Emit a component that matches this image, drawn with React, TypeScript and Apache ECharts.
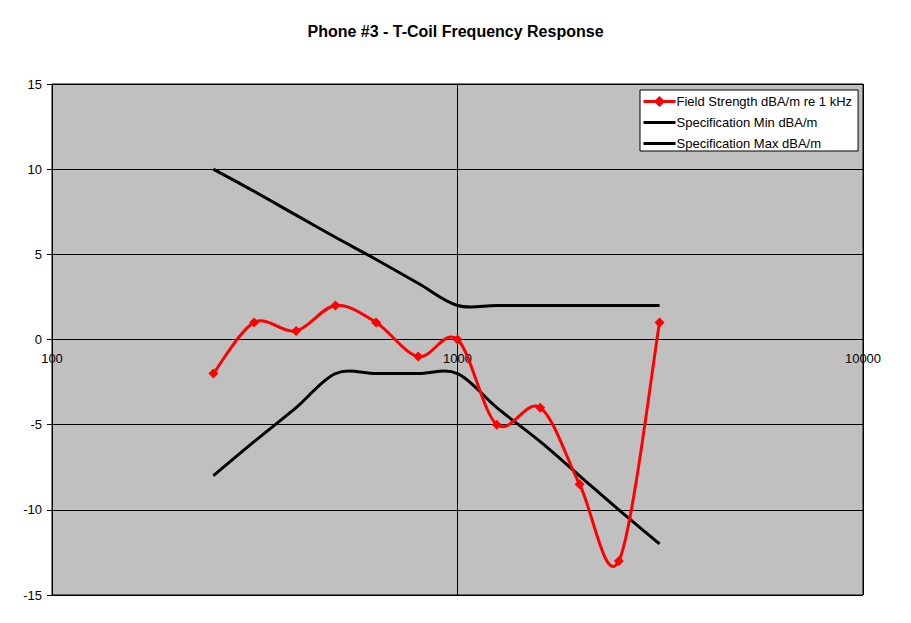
import React, { useEffect, useRef } from "react";
import * as echarts from "echarts";

// Third-octave frequencies (Hz)
const freqs = [250, 315, 400, 500, 630, 800, 1000, 1250, 1600, 2000, 2500, 3150];
// Measured field strength, dBA/m re 1 kHz
const fieldStrength = [-2, 1, 0.5, 2, 1, -1, 0, -5, -4, -8.5, -13, 1];
// Specification mask
const specMin = [-8, -6, -4, -2, -2, -2, -2, -4, -6, -8, -10, -12];
const specMax = [10, 8.7, 7.3, 6, 4.7, 3.3, 2, 2, 2, 2, 2, 2];

const xTicks = [100, 1000, 10000];
const yTicks = [-15, -10, -5, 0, 5, 10, 15];

const seriesNames = [
  "Field Strength dBA/m re 1 kHz",
  "Specification Min dBA/m",
  "Specification Max dBA/m",
];
const titleText = "Phone #3 - T-Coil Frequency Response";

const pair = (xs: number[], ys: number[]) => xs.map((x, i) => [x, ys[i]]);

// Smooth (Catmull-Rom / Excel-style) curve drawn through the data via the axes' scales
function smoothCurve(id: string, xs: number[], ys: number[], color: string, z: number) {
  return {
    type: "custom",
    id,
    name: id,
    coordinateSystem: "cartesian2d",
    data: pair(xs, ys),
    silent: true,
    z,
    renderItem: (params: any, api: any) => {
      if (params.dataIndex !== 0) return { type: "group", children: [] };
      const p = xs.map((x, i) => api.coord([x, ys[i]]) as number[]);
      const n = p.length;
      let d = `M${p[0][0]},${p[0][1]}`;
      for (let i = 0; i < n - 1; i++) {
        const p0 = p[Math.max(0, i - 1)];
        const p1 = p[i];
        const p2 = p[i + 1];
        const p3 = p[Math.min(n - 1, i + 2)];
        const c1x = p1[0] + (p2[0] - p0[0]) / 6;
        const c1y = p1[1] + (p2[1] - p0[1]) / 6;
        const c2x = p2[0] - (p3[0] - p1[0]) / 6;
        const c2y = p2[1] - (p3[1] - p1[1]) / 6;
        d += ` C${c1x},${c1y} ${c2x},${c2y} ${p2[0]},${p2[1]}`;
      }
      return {
        type: "path",
        shape: { pathData: d },
        style: { stroke: color, lineWidth: 3, fill: "none", lineJoin: "round" },
      };
    },
  };
}

export default function App() {
  const ref = useRef<HTMLDivElement>(null);
  useEffect(() => {
    if (!ref.current) return;
    const chart = echarts.init(ref.current, null, { renderer: "svg" });
    const font = "Liberation Sans, Arial, sans-serif";
    const gridTop = 84;
    const gridBottom = 28;
    const plotH = 623 - gridTop - gridBottom;
    const clear = "rgba(0,0,0,0)";
    chart.setOption({
      animation: false,
      backgroundColor: "#ffffff",
      textStyle: { fontFamily: font },
      title: {
        text: titleText,
        left: "center",
        top: 18,
        textStyle: { fontFamily: font, fontSize: 16, fontWeight: "bold", color: "#000" },
      },
      legend: {
        orient: "vertical",
        left: 640,
        top: 90,
        backgroundColor: "#ffffff",
        borderColor: "#000",
        borderWidth: 1,
        borderRadius: 0,
        padding: [5, 6, 1, 2],
        itemWidth: 32,
        itemHeight: 14,
        itemGap: 8,
        textStyle: { fontFamily: font, fontSize: 13, color: "#000", padding: [0, 0, 0, -4] },
        data: [
          { name: seriesNames[0], lineStyle: { color: "#ff0000", width: 3, opacity: 1 } },
          {
            name: seriesNames[1],
            itemStyle: { opacity: 0 },
            lineStyle: { color: "#000", width: 3, opacity: 1 },
          },
          {
            name: seriesNames[2],
            itemStyle: { opacity: 0 },
            lineStyle: { color: "#000", width: 3, opacity: 1 },
          },
        ],
      },
      grid: {
        left: 52,
        right: 48,
        top: gridTop,
        bottom: gridBottom,
        show: true,
        backgroundColor: "#c0c0c0",
        borderColor: "#000",
        borderWidth: 1,
      },
      xAxis: {
        type: "log",
        logBase: 10,
        min: xTicks[0],
        max: xTicks[xTicks.length - 1],
        offset: -plotH / 2,
        axisLine: { show: true, onZero: false, lineStyle: { color: "#000", width: 1 } },
        axisTick: { show: false },
        axisLabel: {
          fontFamily: font,
          fontSize: 13,
          color: "#000",
          margin: 12,
          formatter: (v: number) => String(v),
        },
        splitLine: { show: true, lineStyle: { color: "#000", width: 1 } },
        minorTick: { show: false },
      },
      yAxis: {
        type: "value",
        min: yTicks[0],
        max: yTicks[yTicks.length - 1],
        interval: 5,
        axisLine: { show: true, lineStyle: { color: "#000", width: 1 } },
        axisTick: { show: true, length: 5, lineStyle: { color: "#000" } },
        axisLabel: { fontFamily: font, fontSize: 13, color: "#000", margin: 10 },
        splitLine: { show: true, lineStyle: { color: "#000", width: 1 } },
      },
      series: [
        smoothCurve("curveMin", freqs, specMin, "#000000", 2),
        smoothCurve("curveMax", freqs, specMax, "#000000", 2),
        smoothCurve("curveField", freqs, fieldStrength, "#ff0000", 3),
        {
          name: seriesNames[0],
          type: "line",
          data: pair(freqs, fieldStrength),
          symbol: "diamond",
          symbolSize: 10,
          lineStyle: { color: clear, width: 3 },
          itemStyle: { color: "#ff0000" },
          z: 4,
        },
        {
          name: seriesNames[1],
          type: "line",
          data: pair(freqs, specMin),
          symbol: "none",
          lineStyle: { color: clear, width: 3 },
          itemStyle: { color: "#000" },
        },
        {
          name: seriesNames[2],
          type: "line",
          data: pair(freqs, specMax),
          symbol: "none",
          lineStyle: { color: clear, width: 3 },
          itemStyle: { color: "#000" },
        },
      ],
    });
    return () => chart.dispose();
  }, []);
  return <div ref={ref} style={{ width: 911, height: 623, position: "absolute", left: 0, top: 0 }} />;
}
